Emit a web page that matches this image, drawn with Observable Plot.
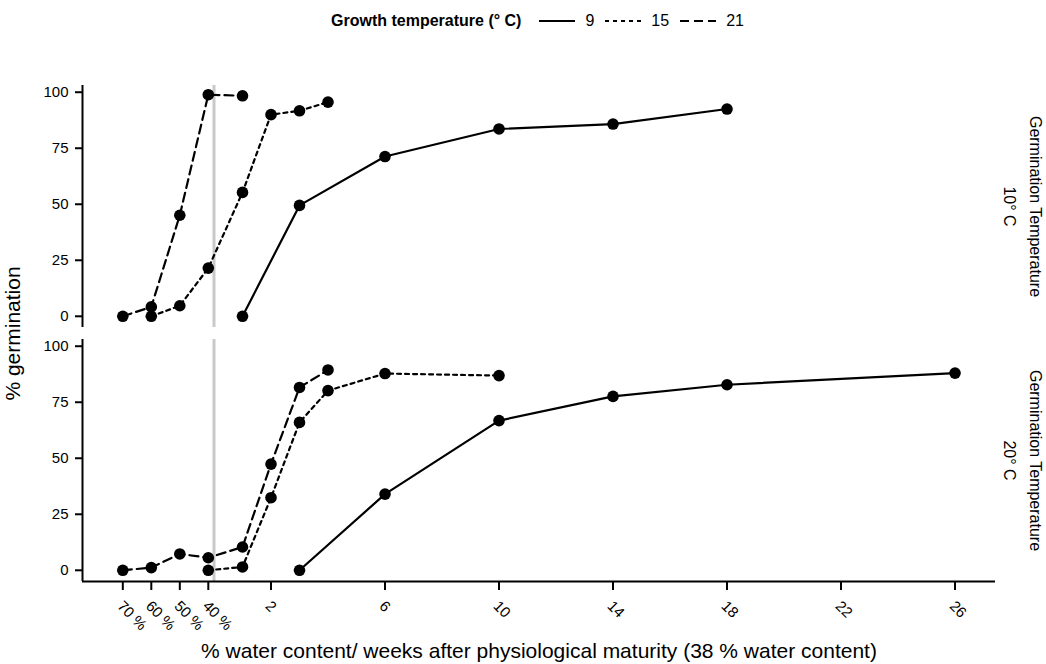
<!DOCTYPE html>
<html>
<head>
<meta charset="utf-8">
<script src="https://cdn.jsdelivr.net/npm/d3@7"></script>
<script src="https://cdn.jsdelivr.net/npm/@observablehq/plot@0.6"></script>
<style>
  body { margin: 0; background: #fff; font-family: "Liberation Sans", Arial, sans-serif; color: #000; }
  #legend { height: 42px; display: flex; align-items: center; justify-content: center; font-size: 16px; padding-left: 29px; box-sizing: border-box; }
  #legend b { font-weight: bold; margin-right: 18px; }
  #legend .key { display: inline-flex; align-items: center; margin-right: 11px; }
  #legend .key:last-child { margin-right: 0; }
  #legend .key svg { margin-right: 10px; }
</style>
</head>
<body>
<div id="legend"></div>
<div id="chart"></div>
<script>
// Growth temperatures (series) and germination temperatures (panels)
const growthTemps = ["9", "15", "21"];
const germTemps = ["10° C", "20° C"];

// Water-content stages before physiological maturity, placed on the week axis
const stageLabels = ["70 %", "60 %", "50 %", "40 %"];
const stageX = [-3.2, -2.2, -1.2, -0.2];
const weekTicks = [2, 6, 10, 14, 18, 22, 26];

// Germination at 10° C
const g10_t9_x = [1, 3, 6, 10, 14, 18];
const g10_t9_y = [0, 49.5, 71.3, 83.6, 85.8, 92.5];
const g10_t15_x = [-2.2, -1.2, -0.2, 1, 2, 3, 4];
const g10_t15_y = [0, 4.7, 21.5, 55.3, 90, 91.7, 95.6];
const g10_t21_x = [-3.2, -2.2, -1.2, -0.2, 1];
const g10_t21_y = [0, 4.2, 45.1, 98.9, 98.4];

// Germination at 20° C
const g20_t9_x = [3, 6, 10, 14, 18, 26];
const g20_t9_y = [0, 34, 66.8, 77.6, 82.8, 88];
const g20_t15_x = [-0.2, 1, 2, 3, 4, 6, 10];
const g20_t15_y = [0, 1.5, 32.4, 66, 80.2, 87.8, 86.9];
const g20_t21_x = [-3.2, -2.2, -1.2, -0.2, 1, 2, 3, 4];
const g20_t21_y = [0, 1.2, 7.3, 5.6, 10.4, 47.4, 81.6, 89.4];

const series = [
  ["10° C", "9", g10_t9_x, g10_t9_y],
  ["10° C", "15", g10_t15_x, g10_t15_y],
  ["10° C", "21", g10_t21_x, g10_t21_y],
  ["20° C", "9", g20_t9_x, g20_t9_y],
  ["20° C", "15", g20_t15_x, g20_t15_y],
  ["20° C", "21", g20_t21_x, g20_t21_y]
];
const rows = series.flatMap(([germ, growth, xs, ys]) =>
  xs.map((x, i) => ({germ, growth, x, y: ys[i]})));

const dash = {"9": null, "15": "4,4", "21": "9,5"};
const xTicks = [...stageX, ...weekTicks];
const tickText = new Map([
  ...stageX.map((x, i) => [x, stageLabels[i]]),
  ...weekTicks.map(w => [w, String(w)])
]);

const xDomain = [-4.614, 27.42];
const yDomain = [-5, 103];
const font = "Liberation Sans, Arial, sans-serif";

// Legend for the line types
const legend = d3.select("#legend");
legend.append("b").text("Growth temperature (° C)");
for (const g of growthTemps) {
  const key = legend.append("span").attr("class", "key");
  const s = key.append("svg").attr("width", 36).attr("height", 10);
  s.append("line").attr("x1", 0).attr("x2", 36).attr("y1", 5).attr("y2", 5)
    .attr("stroke", "#000").attr("stroke-width", 2.2)
    .attr("stroke-dasharray", dash[g]);
  key.append("span").text(g);
}

const chart = Plot.plot({
  width: 1046,
  height: 622,
  marginLeft: 82,
  marginRight: 51,
  marginTop: 42,
  marginBottom: 82,
  style: {fontFamily: font, fontSize: "15px", color: "#000", background: "#fff"},
  x: {domain: xDomain},
  y: {domain: yDomain},
  fy: {domain: germTemps, paddingInner: 0.047, paddingOuter: 0, axis: null},
  marks: [
    // physiological maturity (38 % water content)
    Plot.ruleX([0], {stroke: "#c9c9c9", strokeWidth: 3}),
    // axis lines
    Plot.ruleX([xDomain[0]], {stroke: "#000", strokeWidth: 2}),
    Plot.ruleY([{germ: "20° C", y: yDomain[0]}], {y: "y", fy: "germ", stroke: "#000", strokeWidth: 2}),
    Plot.axisY({ticks: [0, 25, 50, 75, 100], tickSize: 7, tickPadding: 7, strokeWidth: 2, fontSize: 15, label: null}),
    // x tick marks, then the slanted tick labels
    Plot.axisX({ticks: xTicks, tickFormat: () => "", tickSize: 9, strokeWidth: 2, label: null}),
    Plot.axisX({
      ticks: xTicks, tickFormat: d => tickText.get(d),
      tickRotate: 45, tickSize: 0, tickPadding: 22, dx: -3, fontSize: 15, label: null
    }),
    // series lines
    ...growthTemps.map(g => Plot.lineY(rows.filter(d => d.growth === g), {
      x: "x", y: "y", z: "germ", fy: "germ",
      stroke: "#000", strokeWidth: 2.2, strokeDasharray: dash[g]
    })),
    Plot.dot(rows, {x: "x", y: "y", fy: "germ", r: 5.8, fill: "#000"}),
    // panel labels
    Plot.text(germTemps, {
      fy: d => d, frameAnchor: "right", text: d => "Germination Temperature\n" + d,
      rotate: 90, textAnchor: "middle", dx: 30, lineHeight: 1.65, fontSize: 16
    }),
    // axis titles
    Plot.text([{germ: "10° C"}], {
      fy: "germ", frameAnchor: "bottom-left", text: () => "% germination",
      rotate: -90, textAnchor: "middle", dx: -63, dy: 6, fontSize: 21
    }),
    Plot.text([{germ: "20° C"}], {
      fy: "germ", frameAnchor: "bottom", text: () => "% water content/ weeks after physiological maturity (38 % water content)",
      textAnchor: "middle", dy: 76, fontSize: 21
    })
  ]
});
document.getElementById("chart").append(chart);
</script>
</body>
</html>
